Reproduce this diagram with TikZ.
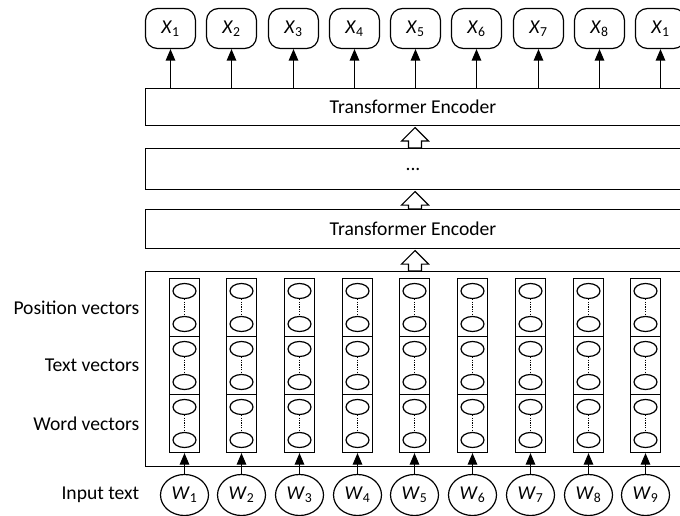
\documentclass[tikz,border=0pt]{standalone}
\usepackage{fontspec}
\setmainfont{Carlito}
\usetikzlibrary{arrows.meta,shapes.geometric,calc}
\newcommand\mainfs{\fontsize{19.6}{23}\selectfont}
\begin{document}
\begin{tikzpicture}[x=1pt,y=-1pt,line width=1.2pt,
  layer/.style={draw, minimum width=535pt, inner sep=0pt, font=\mainfs},
  xnode/.style={draw, rectangle, rounded corners=12pt, minimum width=50pt, minimum height=40pt, inner sep=0pt, font=\mainfs},
  wnode/.style={draw, ellipse, minimum width=48pt, minimum height=41pt, inner sep=0pt, font=\mainfs},
  sect/.style={draw, minimum width=30pt, minimum height=58pt, inner sep=0pt},
  unit/.style={draw, ellipse, minimum width=23pt, minimum height=15pt, inner sep=0pt},
  dotline/.style={line width=1pt, dash pattern=on 1.2pt off 1.2pt},
  arr/.style={-{Triangle[width=9.5pt,length=11.5pt]}},
  hollow/.style={draw, fill=white, line join=miter},
  lbl/.style={anchor=east, inner sep=0pt, font=\mainfs}
]
\useasboundingbox (0,0) rectangle (680,516);
\node[layer, minimum height=37pt] (enc2) at (413,107) {Transformer Encoder};
\node[layer, minimum height=41pt] (dots) at (413,169) {...};
\node[layer, minimum height=39pt] (enc1) at (413,229) {Transformer Encoder};
\node[layer, minimum height=195pt] (emb) at (413,369) {};
\foreach \a/\b in {enc2/dots, dots/enc1, enc1/emb}{
  \draw[hollow] let \p1=($(\a.south)+(2,0)$), \p2=(\b.north) in
    (\x1-6.5pt,\y2) -- (\x1-6.5pt,\y1-15pt) -- (\x1-13.5pt,\y1-15pt) -- (\x1,\y1-1.5pt)
    -- (\x1+13.5pt,\y1-15pt) -- (\x1+6.5pt,\y1-15pt) -- (\x1+6.5pt,\y2) -- cycle;
}
\foreach \k in {1,...,9}{
  \pgfmathsetmacro\cx{round(183.7+57.7*(\k-1))+0.5}
  \foreach \s in {1,2,3}{
    \pgfmathsetmacro\cy{307.5+58*(\s-1)}
    \node[sect] (c\k s\s) at (\cx,\cy) {};
    \node[unit] (c\k s\s a) at ($(c\k s\s.center)+(0,-16.5)$) {};
    \node[unit] (c\k s\s b) at ($(c\k s\s.center)+(0,16.5)$) {};
    \draw[dotline] (c\k s\s a) -- (c\k s\s b);
  }
  \node[wnode] (w\k) at (\cx,495) {\textit{W}\textsubscript{\upshape\k}};
  \draw[arr] (w\k) -- (c\k s3);
}
\foreach \k/\t in {1/1,2/2,3/3,4/4,5/5,6/6,7/7,8/8,9/1}{
  \pgfmathsetmacro\cx{round(170+61.25*(\k-1))+0.5}
  \node[xnode] (x\k) at (\cx,28.5) {\textit{X}\textsubscript{\upshape\t}};
  \draw[arr] (x\k.south |- enc2.north) -- (x\k.south);
}
\node[lbl] (lpos) at ($(c1s1.center -| emb.west)+(-5,0)$) {Position vectors};
\node[lbl] (ltxt) at ($(c1s2.center -| emb.west)+(-5,0)$) {Text vectors};
\node[lbl] (lwrd) at ($(c1s3.center -| emb.west)+(-5,0)$) {Word vectors};
\node[lbl] (linp) at ($(w1.center -| emb.west)+(-5,0)$) {Input text};
\end{tikzpicture}
\end{document}
